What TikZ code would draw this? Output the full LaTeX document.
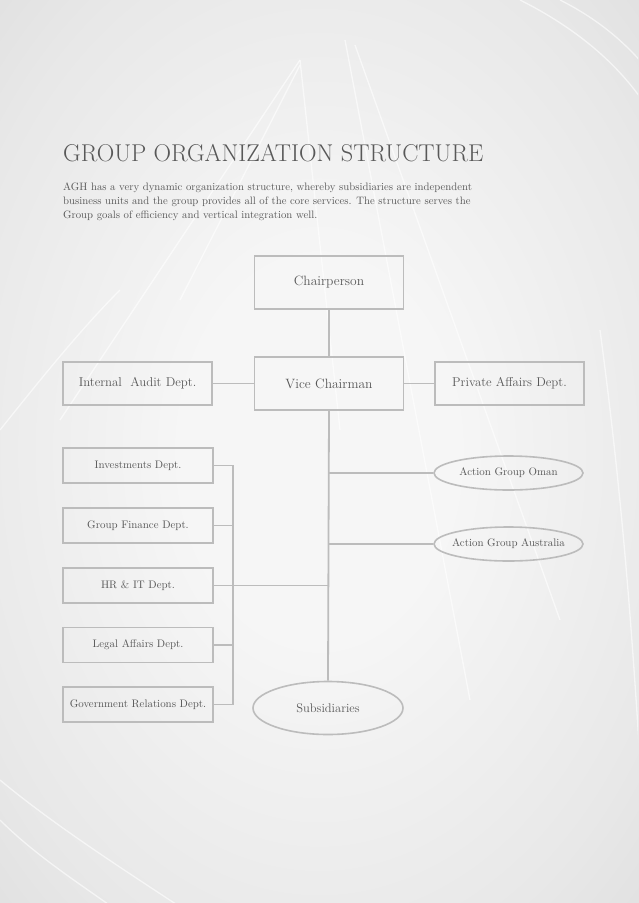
\documentclass[tikz,border=0pt]{standalone}
\usetikzlibrary{shapes.geometric}
\definecolor{bgin}{RGB}{246,246,246}
\definecolor{bgmid}{RGB}{232,232,232}
\definecolor{bgout}{RGB}{212,212,212}
\definecolor{bgcorner}{RGB}{196,196,196}
\definecolor{linegray}{RGB}{188,188,188}
\definecolor{txtgray}{RGB}{88,88,88}
\pgfdeclareradialshading{pagebg}{\pgfpoint{0bp}{0bp}}{color(0bp)=(bgin); color(10bp)=(bgin); color(28bp)=(bgmid); color(46bp)=(bgout); color(72bp)=(bgcorner)}
\tikzset{
  conn/.style={draw=linegray, line width=1.8pt},
  bigbox/.style={draw=linegray, line width=1.6pt, minimum width=149pt, minimum height=53pt, inner sep=0pt, text=txtgray, font=\fontsize{13.5}{15}\selectfont},
  sidebox/.style={draw=linegray, line width=1.6pt, minimum width=149pt, minimum height=43pt, inner sep=0pt, text=txtgray, font=\fontsize{12.8}{14}\selectfont},
  deptbox/.style={draw=linegray, line width=1.6pt, minimum width=150pt, minimum height=35pt, inner sep=0pt, text=txtgray, font=\fontsize{10.9}{12}\selectfont},
  grpell/.style={ellipse, draw=linegray, line width=1.6pt, minimum width=149pt, minimum height=34pt, inner xsep=-5pt, inner ysep=0pt, text=txtgray, font=\fontsize{10.9}{12}\selectfont},
  subell/.style={ellipse, draw=linegray, line width=1.6pt, minimum width=150pt, minimum height=53pt, inner sep=0pt, text=txtgray, font=\fontsize{12.5}{14}\selectfont},
  streak/.style={draw=white, line width=1.3pt, opacity=0.6}
}
\begin{document}
\begin{tikzpicture}[x=1pt,y=-1pt]
\useasboundingbox (0,0) rectangle (638,903);
% background
\shade[shading=pagebg] (-20,-20) rectangle (658,923);
\begin{scope}
\clip (0,0) rectangle (638,903);
\draw[streak] (300,60) -- (340,430);
\draw[streak] (345,40) -- (470,700);
\draw[streak] (355,45) -- (560,620);
\draw[streak] (300,60) -- (60,420);
\draw[streak] (300,65) -- (180,300);
\draw[streak] (520,0) .. controls (600,40) and (640,90) .. (660,130);
\draw[streak] (560,0) .. controls (620,30) and (650,70) .. (670,100);
\draw[streak] (600,330) .. controls (620,480) and (630,600) .. (640,760);
\draw[streak] (0,780) .. controls (60,830) and (140,880) .. (200,920);
\draw[streak] (0,820) .. controls (40,860) and (90,890) .. (130,920);
\draw[streak] (0,430) .. controls (40,380) and (80,330) .. (120,290);
\end{scope}
% title and text
\node[anchor=base west, inner sep=0pt, text=txtgray, font=\fontsize{24.3}{26}\selectfont] (title) at (63,161) {GROUP ORGANIZATION STRUCTURE};
\node[anchor=north west, inner sep=0pt, align=left, text=txtgray, font=\fontsize{10.75}{14}\selectfont] (para) at (63,183) {AGH has a very dynamic organization structure, whereby subsidiaries are independent\\business units and the group provides all of the core services. The structure serves the\\Group goals of efficiency and vertical integration well.};
% nodes
\node[bigbox] (chair) at (329,282.5) {Chairperson};
\node[bigbox] (vice) at (329,383.5) {Vice Chairman};
\node[sidebox] (audit) at (137.5,383.5) {Internal\ \ Audit Dept.};
\node[sidebox] (private) at (509.5,383.5) {Private Affairs Dept.};
\node[deptbox] (invest) at (138,465.5) {Investments Dept.};
\node[deptbox] (finance) at (138,525.5) {Group Finance Dept.};
\node[deptbox] (hrit) at (138,585.5) {HR \& IT Dept.};
\node[deptbox] (legal) at (138,645) {Legal Affairs Dept.};
\node[deptbox] (gov) at (138,704.5) {Government Relations Dept.};
\node[grpell] (oman) at (508.5,473) {Action Group Oman};
\node[grpell] (australia) at (508.5,544) {Action Group Australia};
\node[subell] (subs) at (328,708) {Subsidiaries};
% connectors
\coordinate (bx) at (233,0);
\coordinate (trunkOman) at (vice.south |- oman.west);
\coordinate (trunkAus) at (vice.south |- australia.west);
\coordinate (trunkHR) at (vice.south |- hrit.east);
\draw[conn] (chair) -- (vice);
\draw[conn] (audit) -- (vice);
\draw[conn] (vice) -- (private);
\draw[conn] (vice.south) -- (subs.north);
\draw[conn] (trunkOman) -- (oman.west);
\draw[conn] (trunkAus) -- (australia.west);
\draw[conn] (hrit.east) -- (trunkHR);
\draw[conn] (invest.east) -- (bx |- invest.east) -- (bx |- gov.east) -- (gov.east);
\draw[conn] (finance.east) -- (bx |- finance.east);
\draw[conn] (legal.east) -- (bx |- legal.east);
\end{tikzpicture}
\end{document}
